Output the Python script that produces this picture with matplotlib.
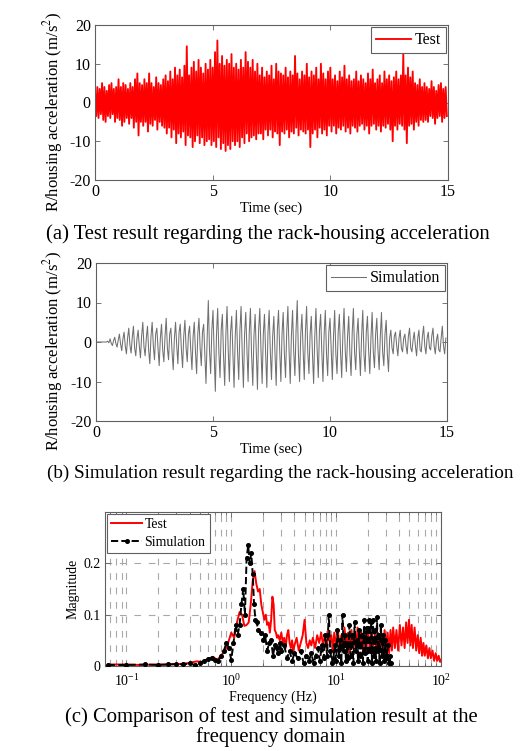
import numpy as np
import matplotlib
matplotlib.use("Agg")
import matplotlib.pyplot as plt
from matplotlib.ticker import LogLocator, NullFormatter

plt.rcParams['font.family'] = ['Liberation Serif', 'DejaVu Serif']
plt.rcParams['mathtext.fontset'] = 'stix'
plt.rcParams['axes.unicode_minus'] = False

# ---------------- data ----------------
# (a) test acceleration: upper / lower extremes per 0.1 s (m/s^2)
test_top = [3, 4, 3.5, 5, 4, 3, 4.5, 5, 3.5, 4,
            6, 4, 5, 4.5, 3.5, 5, 4, 6, 7.5, 5,
            4.5, 6, 5, 7.5, 5, 4, 6.5, 5, 4.5, 6,
            7, 5.5, 8, 6, 9, 7, 8.5, 6.5, 9.5, 14.5,
            7, 9, 10.5, 8, 11, 9, 7.5, 10, 8.5, 11,
            9, 13, 16, 10, 12, 9.5, 11, 10, 12.5, 9,
            10, 8.5, 11, 9, 13, 10.5, 9, 11, 8, 10,
            7, 9, 6.5, 8, 7, 9.5, 6, 10, 8, 7.5,
            7, 9, 6.5, 8, 7, 12, 7.5, 6, 8, 7,
            10, 6.5, 8, 7, 9, 6, 10, 7.5, 6, 8,
            9, 6, 7, 5.5, 8, 6.5, 9.5, 6, 7, 5.5,
            6, 8, 5.5, 7, 6, 5, 7.5, 6, 8.5, 5,
            6, 7, 5, 8, 6, 7, 5.5, 6.5, 8, 6,
            7, 12.5, 7, 9, 6.5, 8, 5, 4.5, 6, 4,
            5, 4, 3.5, 5.5, 4, 3, 4.5, 5, 3.5, 4]
test_bot = [-3.5, -4, -3, -4.5, -5, -3.5, -4, -3, -5, -4,
            -4.5, -6, -5, -4, -5.5, -4, -6.5, -5, -8.5, -5,
            -6, -5, -7.5, -5.5, -6, -4.5, -7, -5, -6, -6.5,
            -8, -6.5, -9, -7, -10.5, -8, -9, -7.5, -11, -8.5,
            -9, -11.5, -10, -8.5, -10.5, -9, -11, -10, -9.5, -11,
            -10, -11.5, -9, -12, -10.5, -12.5, -11, -12, -10, -11,
            -10, -11.5, -9, -10.5, -8, -10, -9, -8.5, -9.5, -8,
            -8, -9.5, -7, -8.5, -7, -9, -7.5, -8, -11, -7.5,
            -8, -7, -9, -7.5, -8, -6.5, -8.5, -7, -7.5, -8,
            -7, -11.5, -8, -7, -9, -6.5, -8, -7, -8.5, -6,
            -7.5, -6, -8, -6.5, -7, -6, -7.5, -6.5, -8, -6,
            -6.5, -7.5, -6, -5.5, -7, -6, -8, -6, -5.5, -7,
            -6, -7.5, -6, -6.5, -5.5, -7, -10, -6, -7, -5.5,
            -6, -7, -10.5, -6, -5.5, -7, -5, -6, -4.5, -5,
            -4.5, -5, -3.5, -4, -5.5, -4, -3.5, -5, -4, -3.5]

# (b) simulated acceleration, sampled every 0.05 s (m/s^2)
sim_acc = [
    0, 0, 0, 0, 0, 0, 0, 0, 0, 0, 0.2, -0.2, 0.8, -0.3, -0.9, 0.3, 1.2, -0.4, -1.3, 0.5,
    2.0, -0.5, -2.2, 0.8, 2.5, -1.0, -3.0, 1.0, 3.5, -0.8, -2.8, 1.2, 4.0, -1.5, -3.5, 0.8, 3.0, -1.0, -4.0, 1.5,
    5.0, -1.2, -3.5, 1.0, 4.0, -2.0, -5.5, 1.5, 5.0, -1.0, -4.5, 2.0, 3.5, -1.5, -6.0, 1.0, 4.5, -2.0, -5.0, 1.5,
    6.0, -1.5, -4.5, 2.0, 3.5, -2.5, -7.0, 1.0, 5.0, -1.0, -5.5, 2.5, 4.5, -2.0, -6.5, 1.5, 5.5, -1.5, -5.0, 2.0,
    4.0, -2.0, -7.0, 1.5, 5.0, -2.5, -8.0, 2.0, 6.0, -1.5, -6.0, 2.5, 4.5, -3.0, -10.5, 1.0, 10.5, -2.0, -8.0, 3.0,
    8.0, -3.0, -12.5, 2.0, 8.5, -2.5, -9.0, 3.0, 7.0, -3.5, -11.0, 2.0, 9.0, -2.0, -10.0, 2.5, 6.5, -3.0, -11.5, 1.5,
    8.0, -2.5, -9.5, 3.0, 9.0, -3.0, -11.5, 2.0, 7.5, -2.0, -10.0, 2.5, 8.5, -3.5, -11.0, 1.5, 7.0, -2.5, -12.0, 3.0,
    8.5, -2.0, -10.5, 2.0, 7.0, -3.0, -11.5, 2.5, 8.0, -2.5, -9.5, 1.5, 6.5, -3.0, -11.0, 3.0, 8.0, -2.0, -10.0, 2.0,
    7.5, -3.0, -9.0, 2.5, 9.0, -2.0, -10.5, 1.5, 8.0, -2.5, -8.5, 3.0, 10.5, -3.0, -10.0, 2.0, 7.0, -2.0, -9.5, 2.5,
    9.0, -2.5, -8.0, 2.0, 6.5, -3.0, -10.5, 1.5, 8.5, -2.0, -9.0, 3.0, 7.0, -2.5, -10.0, 2.0, 8.0, -3.0, -8.5, 2.5,
    6.0, -2.0, -9.5, 1.5, 8.0, -3.0, -8.0, 2.5, 7.0, -2.5, -9.0, 2.0, 8.5, -2.0, -7.5, 1.5, 6.5, -3.0, -8.5, 2.5,
    8.5, -2.5, -7.0, 2.0, 6.0, -2.0, -8.5, 1.5, 8.0, -3.0, -7.5, 2.5, 6.5, -2.0, -8.0, 1.0, 7.5, -2.5, -6.5, 2.0,
    6.0, -2.0, -7.0, 1.5, 7.5, -2.5, -6.0, 2.0, 5.5, -3.0, -7.5, 1.0, 3.0, -1.5, -3.0, 1.5, 2.5, -1.0, -3.5, 1.0,
    3.0, -1.5, -2.5, 1.0, 2.0, -1.0, -3.0, 1.5, 3.5, -1.5, -2.5, 0.5, 2.5, -1.0, -3.5, 1.0, 3.0, -2.0, -2.5, 1.5,
    4.0, -1.0, -3.0, 1.0, 2.5, -1.5, -2.0, 1.5, 3.5, -1.0, -3.0, 0.5, 2.0, -2.0, -2.5, 1.0, 4.0, -1.0, -3.0, 1.0]

# (c) spectra
freq_test = [0.0667, 0.1, 0.133, 0.2, 0.267, 0.333, 0.4, 0.467, 0.533, 0.6,
             0.667, 0.733, 0.8, 0.867, 0.933, 1.0, 1.067, 1.133, 1.2, 1.267,
             1.333, 1.4, 1.467, 1.533, 1.6, 1.667, 1.733, 1.8, 1.867, 1.933,
             2.0, 2.067, 2.133, 2.2, 2.267, 2.333, 2.4, 2.467, 2.533, 2.6,
             2.667, 2.733, 2.8, 2.9, 3.0, 3.1, 3.2, 3.3, 3.4, 3.5,
             3.6, 3.7, 3.8, 3.9, 4.0, 4.2, 4.4, 4.6, 4.8, 5.0,
             5.2, 5.4, 5.6, 5.8, 6.0, 6.3, 6.6, 6.9, 7.2, 7.5,
             7.8, 8.1, 8.4, 8.7, 9.0, 9.3, 9.6, 10.0, 10.4, 10.8,
             11.2, 11.6, 12.0, 12.5, 13.0, 13.5, 14.0, 14.5, 15.0, 15.5,
             16.0, 16.7, 17.4, 18.1, 18.8, 19.5, 20.2, 21.0, 21.8, 22.6,
             23.4, 24.2, 25.0, 26.0, 27.0, 28.0, 29.0, 30.0, 31.0, 32.0,
             33.0, 34.0, 35.0, 36.3, 37.6, 39.0, 40.5, 42.0, 43.5, 45.0,
             46.5, 48.0, 49.5, 51.0, 52.5, 54.0, 56.0, 58.0, 60.0, 62.0,
             64.0, 66.0, 68.0, 70.0, 72.5, 75.0, 77.5, 80.0, 83.0, 86.0,
             89.0, 92.0, 95.0, 98.0, 100.0]
mag_test = [0.003, 0.003, 0.002, 0.003, 0.003, 0.004, 0.006, 0.009, 0.008, 0.012,
            0.018, 0.012, 0.02, 0.03, 0.045, 0.065, 0.055, 0.085, 0.105, 0.1,
            0.078, 0.08, 0.085, 0.12, 0.165, 0.185, 0.16, 0.145, 0.15, 0.12,
            0.105, 0.09, 0.1, 0.08, 0.085, 0.065, 0.09, 0.135, 0.12, 0.07,
            0.065, 0.055, 0.06, 0.05, 0.065, 0.045, 0.055, 0.035, 0.06, 0.07,
            0.045, 0.035, 0.05, 0.03, 0.04, 0.055, 0.03, 0.045, 0.06, 0.09,
            0.045, 0.035, 0.05, 0.04, 0.055, 0.035, 0.06, 0.045, 0.065, 0.04,
            0.06, 0.035, 0.07, 0.045, 0.06, 0.03, 0.065, 0.04, 0.07, 0.035,
            0.06, 0.03, 0.075, 0.04, 0.065, 0.025, 0.07, 0.035, 0.06, 0.03,
            0.075, 0.04, 0.065, 0.025, 0.06, 0.035, 0.07, 0.03, 0.065, 0.04,
            0.06, 0.025, 0.065, 0.035, 0.06, 0.03, 0.07, 0.035, 0.065, 0.025,
            0.07, 0.03, 0.075, 0.035, 0.07, 0.03, 0.08, 0.04, 0.075, 0.035,
            0.085, 0.045, 0.09, 0.04, 0.08, 0.035, 0.075, 0.03, 0.06, 0.025,
            0.055, 0.02, 0.045, 0.02, 0.04, 0.015, 0.035, 0.015, 0.03, 0.01,
            0.025, 0.01, 0.02, 0.008, 0.012]

freq_sim = [0.0667, 0.1, 0.15, 0.2, 0.25, 0.3, 0.35, 0.4, 0.45, 0.5,
            0.55, 0.6, 0.65, 0.7, 0.75, 0.8, 0.85, 0.9, 0.95, 1.0,
            1.05, 1.1, 1.15, 1.2, 1.25, 1.3, 1.35, 1.4, 1.45, 1.5,
            1.55, 1.6, 1.65, 1.7, 1.75, 1.8, 1.9, 2.0, 2.1, 2.2,
            2.3, 2.4, 2.5, 2.6, 2.7, 2.8, 2.9, 3.0, 3.2, 3.4,
            3.6, 3.8, 4.0, 4.3, 4.6, 4.9, 5.2, 5.5, 5.8, 6.1,
            6.4, 6.7, 7.0, 7.3, 7.6, 7.9, 8.2, 8.5, 8.8, 9.1,
            9.4, 9.7, 10.0, 10.3, 10.6, 10.9, 11.2, 11.5, 11.8, 12.1,
            12.4, 12.7, 13.0, 13.4, 13.8, 14.2, 14.6, 15.0, 15.4, 15.8,
            16.2, 16.6, 17.0, 17.5, 18.0, 18.5, 19.0, 19.5, 20.0, 20.5,
            21.0, 21.5, 22.0, 22.5, 23.0, 23.5, 24.0, 24.5, 25.0, 25.5,
            26.0, 26.7, 27.4, 28.1, 28.8, 29.5, 30.2, 30.9, 31.6, 32.3,
            33.0]
mag_sim = [0.002, 0.002, 0.003, 0.002, 0.003, 0.004, 0.003, 0.005, 0.002, 0.006,
           0.01, 0.014, 0.016, 0.012, 0.01, 0.02, 0.03, 0.045, 0.035, 0.012,
           0.045, 0.08, 0.06, 0.08, 0.12, 0.15, 0.1, 0.21, 0.235, 0.2,
           0.22, 0.18, 0.12, 0.09, 0.085, 0.07, 0.065, 0.05, 0.06, 0.03,
           0.045, 0.05, 0.02, 0.04, 0.035, 0.025, 0.045, 0.03, 0.04, 0.015,
           0.03, 0.01, 0.025, 0.015, 0.03, 0.005, 0.02, 0.01, 0.025, 0.005,
           0.02, 0.035, 0.01, 0.04, 0.015, 0.06, 0.02, 0.1, 0.03, 0.005,
           0.015, 0.04, 0.01, 0.07, 0.02, 0.05, 0.005, 0.1, 0.03, 0.06,
           0.01, 0.045, 0.015, 0.08, 0.02, 0.06, 0.005, 0.085, 0.03, 0.05,
           0.01, 0.07, 0.02, 0.06, 0.005, 0.09, 0.025, 0.075, 0.01, 0.09,
           0.03, 0.085, 0.005, 0.09, 0.02, 0.07, 0.01, 0.095, 0.03, 0.06,
           0.005, 0.08, 0.02, 0.06, 0.01, 0.05, 0.015, 0.04, 0.005, 0.02,
           0.005]

captions = ["(a) Test result regarding the rack-housing acceleration",
            "(b) Simulation result regarding the rack-housing acceleration",
            "(c) Comparison of test and simulation result at the\nfrequency domain"]

# ---------------- figure ----------------
W, H = 524, 751
fig = plt.figure(figsize=(W / 100, H / 100), dpi=100)

def ax_px(l, t, r, b):
    return fig.add_axes([l / W, 1 - b / H, (r - l) / W, (b - t) / H])

spine_col = '#606060'

def style(ax, fs):
    for s in ax.spines.values():
        s.set_color(spine_col)
        s.set_linewidth(0.8)
    ax.tick_params(direction='in', top=True, right=True, length=3.5,
                   width=0.6, color=spine_col, labelsize=fs, pad=3)

def frame_legend(leg):
    leg.get_frame().set_edgecolor('#606060')
    leg.get_frame().set_linewidth(0.8)

ylab = 'R/housing acceleration (m/s$^2$)'

# (a)
ax1 = ax_px(95, 25, 448, 180)
t_a = []
y_a = []
for i in range(len(test_top)):
    t_a += [i * 0.1, i * 0.1 + 0.05]
    y_a += [test_top[i], test_bot[i]]
ax1.plot(t_a, y_a, color='#ff0000', lw=1.35, label='Test')
ax1.set_xlim(0, 15)
ax1.set_ylim(-20, 20)
ax1.set_xticks([0, 5, 10, 15])
ax1.set_yticks([-20, -10, 0, 10, 20])
style(ax1, 11.5)
ax1.set_xlabel('Time (sec)', fontsize=10.5, labelpad=1)
ax1.set_ylabel(ylab, fontsize=12)
ax1.yaxis.set_label_coords(-0.085, 0.44)
frame_legend(ax1.legend(loc='upper right', fontsize=11.5, handlelength=2.2,
                        borderaxespad=0.15, fancybox=False, framealpha=1,
                        borderpad=0.3, handletextpad=0.2))

# (b)
ax2 = ax_px(96, 263, 447, 421)
t_b = np.arange(len(sim_acc)) * 0.05
ax2.plot(t_b, sim_acc, color='#707070', lw=0.75, label='Simulation')
ax2.set_xlim(0, 15)
ax2.set_ylim(-20, 20)
ax2.set_xticks([0, 5, 10, 15])
ax2.set_yticks([-20, -10, 0, 10, 20])
style(ax2, 11.5)
ax2.set_xlabel('Time (sec)', fontsize=10.5, labelpad=1)
ax2.set_ylabel(ylab, fontsize=12)
ax2.yaxis.set_label_coords(-0.088, 0.443)
frame_legend(ax2.legend(loc='upper right', fontsize=11.5, handlelength=2.2,
                        borderaxespad=0.15, fancybox=False, framealpha=1,
                        borderpad=0.3, handletextpad=0.2))

# (c)
ax3 = ax_px(105, 512, 441, 666)
ax3.set_xscale('log')
ax3.plot(freq_test, mag_test, color='#ff0000', lw=1.4, label='Test', zorder=3)
ax3.plot(freq_sim, mag_sim, color='black', lw=1.4, ls='--', marker='o',
         ms=2.6, label='Simulation', zorder=4)
ax3.set_xlim(0.0625, 100)
ax3.set_ylim(0, 0.3)
ax3.set_yticks([0, 0.1, 0.2])
ax3.set_yticklabels(['0', '0.1', '0.2'])
ax3.xaxis.set_major_locator(LogLocator(base=10, numticks=10))
ax3.xaxis.set_minor_locator(LogLocator(base=10, subs=np.arange(2, 10), numticks=20))
ax3.xaxis.set_minor_formatter(NullFormatter())
ax3.grid(True, which='major', axis='both', color='#a8a8a8', ls=(0, (6, 7)), lw=0.8)
ax3.grid(True, which='minor', axis='x', color='#a8a8a8', ls=(0, (6, 7)), lw=0.8)
style(ax3, 10)
ax3.tick_params(axis='x', which='major', pad=5)
ax3.tick_params(which='minor', direction='in', top=True, length=2, color=spine_col)
ax3.set_xlabel('Frequency (Hz)', fontsize=10, labelpad=1)
ax3.set_ylabel('Magnitude', fontsize=10, labelpad=3)
frame_legend(ax3.legend(loc='upper left', fontsize=10, handlelength=2.2,
                        borderaxespad=0.15, fancybox=False, framealpha=1,
                        borderpad=0.3, handletextpad=0.2, labelspacing=0.35))

# captions
fig.text(268 / W, 1 - 234 / H, captions[0], ha='center', va='center', fontsize=14.9)
fig.text(280 / W, 1 - 473 / H, captions[1], ha='center', va='center', fontsize=13.8)
fig.text(271 / W, 1 - 727 / H, captions[2], ha='center', va='center', fontsize=14.9,
         linespacing=0.95)

fig.savefig('out.png', dpi=100)
